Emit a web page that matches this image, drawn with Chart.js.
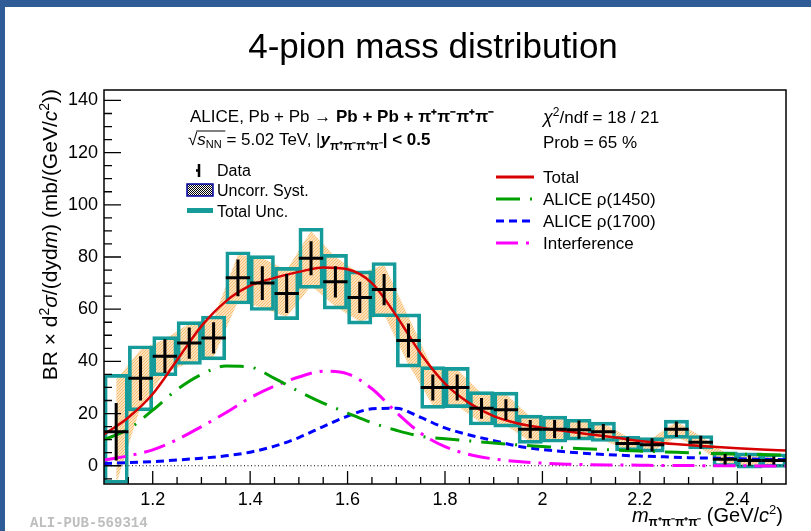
<!DOCTYPE html>
<html>
<head>
<meta charset="utf-8">
<script src="https://cdn.jsdelivr.net/npm/chart.js@4"></script>
<style>
  body { margin: 0; background: #fff; }
  canvas { display: block; }
</style>
</head>
<body>
<canvas id="massChart" width="811" height="531"></canvas>
<script>
// measured points, one per 50 MeV bin
const mass = [1.125, 1.175, 1.225, 1.275, 1.325, 1.375, 1.425, 1.475, 1.525, 1.575,
              1.625, 1.675, 1.725, 1.775, 1.825, 1.875, 1.925, 1.975, 2.025, 2.075,
              2.125, 2.175, 2.225, 2.275, 2.325, 2.375, 2.425, 2.475];
const xsec = [13, 33.5, 42, 47, 49, 72, 70, 66, 79.5, 70.5,
              64.5, 67.5, 48, 30, 30, 22, 21.5, 14, 14, 13.8,
              13, 8.5, 8, 14, 9, 2.5, 2, 2];
const statErr = [11, 8.5, 6.5, 6, 6, 7, 6.5, 7.5, 6.5, 6,
                 6, 6, 6.5, 5, 5, 4, 4, 3.5, 3.5, 3.5,
                 3, 2.5, 2.5, 3, 2.5, 2, 2, 1.5];
const systErr = [20, 11, 6.5, 7.5, 7.5, 9, 9.5, 9, 10.5, 9.5,
                 9.2, 9.5, 9.2, 7, 7, 5.7, 6, 4.8, 4.5, 3.5,
                 3.3, 2.5, 2.5, 3, 2.3, 2.5, 2.6, 2.3];
const totalErr = [22, 12.5, 7.5, 8.2, 8.4, 10, 10.5, 10, 11.5, 10.5,
                  10.2, 10.4, 10.2, 8, 7.7, 6.4, 6.7, 5.4, 5, 4,
                  3.7, 2.8, 2.8, 3.5, 2.6, 2.8, 2.9, 2.6];

// fit components, sampled every 50 MeV
const fitMass = [1.10, 1.15, 1.20, 1.25, 1.30, 1.35, 1.40, 1.45, 1.50, 1.55,
                 1.60, 1.65, 1.70, 1.75, 1.80, 1.85, 1.90, 1.95, 2.00, 2.05,
                 2.10, 2.15, 2.20, 2.25, 2.30, 2.35, 2.40, 2.45, 2.50];
const fitTotal = [12, 18.5, 27.5, 40.5, 53.5, 63, 69, 72, 74.3, 76,
                  75.3, 70, 57.5, 43, 31.5, 24, 19, 16.2, 14.5, 13.2,
                  12, 10.8, 9.5, 8.6, 7.9, 7.3, 6.7, 6.2, 5.8];
const rho1450 = [10, 14, 21.3, 29.2, 35, 38.2, 37.8, 33.5, 28.5, 24,
                 20.2, 16.5, 13.6, 11.3, 10.3, 9.5, 8.7, 8, 7.4, 6.8,
                 6.4, 6, 5.6, 5.3, 5, 4.7, 4.5, 4.3, 4.1];
const rho1700 = [0.9, 1.2, 1.6, 2.2, 2.9, 3.8, 5.2, 7.5, 10.8, 15,
                 19, 21.8, 22, 18.5, 14.5, 11.8, 9.6, 7.5, 6.2, 5.3,
                 4.6, 4.1, 3.7, 3.4, 3.1, 2.9, 2.7, 2.5, 2.3];
const interference = [2.2, 3.8, 6.1, 10, 15, 20.3, 26, 30.5, 34, 36.2,
                      35.2, 29.5, 20.5, 12.5, 7.3, 4.3, 2.6, 1.6, 1.0, 0.6,
                      0.4, 0.3, 0.2, 0.1, 0.1, 0, 0, -0.1, -0.1];

const xTicks = [1.2, 1.4, 1.6, 1.8, 2.0, 2.2, 2.4];
const yTicks = [0, 20, 40, 60, 80, 100, 120, 140];
const xMin = 1.1, xMax = 2.5, yMin = -7, yMax = 144;
const binHalf = 0.025;

const FONT = '"Liberation Sans", Arial, Helvetica, sans-serif';
const RED = 'rgb(214,0,0)', GREEN = 'rgb(0,160,0)', BLUE = 'rgb(0,0,255)', MAGENTA = 'rgb(255,0,255)';
const TEAL = 'rgb(22,155,155)';
const DASH_GREEN = [24, 10, 2, 10], DASH_BLUE = [8, 5], DASH_MAGENTA = [22, 8, 3, 8];

function dotPattern(size, bg, fg, dots) {
  const c = document.createElement('canvas');
  c.width = size; c.height = size;
  const g = c.getContext('2d');
  g.fillStyle = bg; g.fillRect(0, 0, size, size);
  g.fillStyle = fg;
  dots.forEach(d => g.fillRect(d[0], d[1], 1, 1));
  return g.createPattern(c, 'repeat');
}
const orangeFill = dotPattern(3, 'rgb(253,226,188)', 'rgb(247,190,115)', [[0, 0], [1, 2], [2, 1]]);
const systIcon = dotPattern(2, '#ffffff', '#000000', [[0, 0], [1, 1]]);

const pts = (xs, ys) => xs.map((x, i) => ({x: x, y: ys[i]}));

// draws a run of differently styled pieces of text along one baseline
function richText(ctx, runs, x, y, align) {
  let w = 0;
  runs.forEach(r => { ctx.font = r[1]; w += ctx.measureText(r[0]).width; });
  let cx = align === 'right' ? x - w : (align === 'center' ? x - w / 2 : x);
  runs.forEach(r => {
    ctx.font = r[1];
    ctx.fillText(r[0], cx, y + (r[2] || 0));
    cx += ctx.measureText(r[0]).width;
  });
  return w;
}

const decorations = {
  id: 'decorations',
  beforeDraw(chart) {
    const ctx = chart.ctx;
    ctx.save();
    ctx.fillStyle = '#fff';
    ctx.fillRect(0, 0, chart.width, chart.height);
    ctx.fillStyle = 'rgb(47,91,151)';
    ctx.fillRect(0, 0, chart.width, 7);
    ctx.fillRect(0, 0, 5, chart.height);
    ctx.restore();
  },
  afterDatasetsDraw(chart) {
    const ctx = chart.ctx, xs = chart.scales.x, ys = chart.scales.y, a = chart.chartArea;
    ctx.save();
    ctx.beginPath();
    ctx.rect(a.left, a.top, a.right - a.left, a.bottom - a.top);
    ctx.clip();
    // statistical error crosses
    ctx.strokeStyle = '#000';
    ctx.lineWidth = 3;
    mass.forEach((m, i) => {
      const px = xs.getPixelForValue(m), py = ys.getPixelForValue(xsec[i]);
      ctx.beginPath();
      ctx.moveTo(px, ys.getPixelForValue(xsec[i] - statErr[i]));
      ctx.lineTo(px, ys.getPixelForValue(xsec[i] + statErr[i]));
      ctx.moveTo(xs.getPixelForValue(m - binHalf), py);
      ctx.lineTo(xs.getPixelForValue(m + binHalf), py);
      ctx.stroke();
    });
    ctx.restore();

    // frame and inward ticks
    ctx.save();
    ctx.strokeStyle = '#000';
    ctx.lineWidth = 1.5;
    ctx.strokeRect(a.left, a.top, a.right - a.left, a.bottom - a.top);
    ctx.lineWidth = 1.3;
    ctx.beginPath();
    for (let v = -5; v <= 140; v += 5) {
      const py = ys.getPixelForValue(v);
      ctx.moveTo(a.left, py);
      ctx.lineTo(a.left + (v % 20 === 0 ? 17 : 8), py);
    }
    for (let k = 23; k <= 49; k++) {
      const px = xs.getPixelForValue(k * 0.05);
      ctx.moveTo(px, a.bottom);
      ctx.lineTo(px, a.bottom - (k % 4 === 0 ? 13 : 7));
    }
    ctx.stroke();
    ctx.restore();
  },
  afterDraw(chart) {
    const ctx = chart.ctx;
    ctx.save();
    ctx.fillStyle = '#000';
    ctx.textBaseline = 'alphabetic';
    ctx.textAlign = 'left';

    // title
    richText(ctx, [['4-pion mass distribution', '35px ' + FONT]], 433, 58, 'center');

    // y axis title
    ctx.save();
    ctx.translate(57, 89);
    ctx.rotate(-Math.PI / 2);
    richText(ctx, [
      ['BR \u00d7 d', '21px ' + FONT], ['2', '14px ' + FONT, -8],
      ['\u03c3', 'italic 21px ' + FONT], ['/(dyd', '21px ' + FONT],
      ['m', 'italic 21px ' + FONT], [') (mb/(GeV/', '21px ' + FONT],
      ['c', 'italic 21px ' + FONT], ['2', '14px ' + FONT, -8], ['))', '21px ' + FONT]
    ], 0, 0, 'right');
    ctx.restore();

    // x axis title
    richText(ctx, [
      ['m', 'italic 20px ' + FONT], ['\u03c0\u207a\u03c0\u207b\u03c0\u207a\u03c0\u207b', 'bold 12px ' + FONT, 4],
      [' (GeV/', '20px ' + FONT], ['c', 'italic 20px ' + FONT],
      ['2', '13px ' + FONT, -8], [')', '20px ' + FONT]
    ], 783, 522, 'right');

    // collision system block
    const t = '17px ' + FONT, tb = 'bold 17px ' + FONT;
    richText(ctx, [['ALICE, Pb + Pb \u2192 ', t], ['Pb + Pb + \u03c0\u207a\u03c0\u207b\u03c0\u207a\u03c0\u207b', tb]], 190, 122, 'left');
    const w0 = richText(ctx, [['\u221a', t]], 188, 145, 'left');
    ctx.lineWidth = 1;
    ctx.beginPath();
    ctx.moveTo(188 + w0 - 1, 131);
    ctx.lineTo(188 + w0 + 28, 131);
    ctx.stroke();
    richText(ctx, [
      ['s', 'italic ' + t], ['NN', '11px ' + FONT, 3], [' = 5.02 TeV, |', t],
      ['y', 'bold italic ' + t], ['\u03c0\u207a\u03c0\u207b\u03c0\u207a\u03c0\u207b', 'bold 12px ' + FONT, 5],
      ['| < 0.5', tb]
    ], 188 + w0, 145, 'left');

    // data legend
    const tl = '16px ' + FONT;
    ctx.strokeStyle = '#000';
    ctx.lineWidth = 2.5;
    ctx.beginPath();
    ctx.moveTo(199, 164); ctx.lineTo(199, 177);
    ctx.moveTo(196, 170.5); ctx.lineTo(199, 170.5);
    ctx.stroke();
    ctx.fillStyle = systIcon;
    ctx.fillRect(187, 184, 26, 12);
    ctx.strokeStyle = 'rgb(0,0,160)';
    ctx.lineWidth = 1.5;
    ctx.strokeRect(187, 184, 26, 12);
    ctx.fillStyle = TEAL;
    ctx.fillRect(187, 208, 26, 5);
    ctx.fillStyle = '#000';
    richText(ctx, [['Data', tl]], 217, 176, 'left');
    richText(ctx, [['Uncorr. Syst.', tl]], 217, 196, 'left');
    richText(ctx, [['Total Unc.', tl]], 217, 217, 'left');

    // fit legend
    richText(ctx, [['\u03c7', 'italic 18px ' + FONT], ['2', '12px ' + FONT, -7], ['/ndf = 18 / 21', t]], 543, 123, 'left');
    richText(ctx, [['Prob = 65 %', t]], 543, 148, 'left');
    const rows = [
      ['Total', RED, []], ['ALICE \u03c1(1450)', GREEN, DASH_GREEN],
      ['ALICE \u03c1(1700)', BLUE, DASH_BLUE], ['Interference', MAGENTA, DASH_MAGENTA]
    ];
    rows.forEach((r, i) => {
      const yy = 177 + i * 22;
      ctx.strokeStyle = r[1];
      ctx.lineWidth = 3;
      ctx.setLineDash(r[2]);
      ctx.beginPath();
      ctx.moveTo(496, yy); ctx.lineTo(534, yy);
      ctx.stroke();
      ctx.setLineDash([]);
      ctx.fillStyle = '#000';
      richText(ctx, [[r[0], t]], 543, yy + 6, 'left');
    });

    // publication tag
    ctx.fillStyle = 'rgb(190,190,190)';
    richText(ctx, [['ALI-PUB-569314', 'bold 14px "Liberation Mono", monospace']], 30, 527, 'left');
    ctx.restore();
  }
};

const boxes = mass.map((m, i) => ({x: m, y: [Math.max(xsec[i] - totalErr[i], yMin + 0.3), xsec[i] + totalErr[i]]}));

new Chart(document.getElementById('massChart'), {
  type: 'bar',
  data: {
    datasets: [
      {
        type: 'line', label: 'syst up', data: pts(mass, xsec.map((v, i) => v + systErr[i])),
        borderWidth: 0, pointRadius: 0, fill: false, order: 9
      },
      {
        type: 'line', label: 'syst down', data: pts(mass, xsec.map((v, i) => v - systErr[i])),
        borderWidth: 0, pointRadius: 0, fill: '-1', backgroundColor: orangeFill, order: 8
      },
      {
        type: 'bar', label: 'Total Unc.', data: boxes,
        backgroundColor: 'rgba(0,0,0,0)', borderColor: TEAL, borderWidth: 3, borderSkipped: false,
        barPercentage: 1, categoryPercentage: 1, order: 7
      },
      {
        type: 'line', label: 'zero', data: [{x: xMin, y: 0}, {x: xMax, y: 0}],
        borderColor: '#000', borderWidth: 1.2, borderDash: [1, 2.5], pointRadius: 0, order: 6
      },
      {
        type: 'line', label: 'Interference', data: pts(fitMass, interference),
        borderColor: MAGENTA, borderWidth: 3, borderDash: DASH_MAGENTA, pointRadius: 0,
        cubicInterpolationMode: 'monotone', order: 5
      },
      {
        type: 'line', label: 'ALICE rho(1700)', data: pts(fitMass, rho1700),
        borderColor: BLUE, borderWidth: 3, borderDash: DASH_BLUE, pointRadius: 0,
        cubicInterpolationMode: 'monotone', order: 4
      },
      {
        type: 'line', label: 'ALICE rho(1450)', data: pts(fitMass, rho1450),
        borderColor: GREEN, borderWidth: 3, borderDash: DASH_GREEN, pointRadius: 0,
        cubicInterpolationMode: 'monotone', order: 3
      },
      {
        type: 'line', label: 'Total', data: pts(fitMass, fitTotal),
        borderColor: RED, borderWidth: 2.5, pointRadius: 0,
        cubicInterpolationMode: 'monotone', order: 2
      }
    ]
  },
  options: {
    responsive: false,
    animation: false,
    events: [],
    layout: { padding: { top: 90, right: 25, left: 0, bottom: 0 }, autoPadding: false },
    plugins: { legend: { display: false }, tooltip: { enabled: false } },
    scales: {
      x: {
        type: 'linear', min: xMin, max: xMax, offset: false,
        grid: { display: false, drawTicks: false },
        border: { display: false },
        afterFit: s => { s.height = 47; },
        afterBuildTicks: s => { s.ticks = xTicks.map(v => ({value: v})); },
        ticks: {
          padding: 5, color: '#000', font: { family: FONT, size: 18 },
          callback: v => String(+v.toFixed(1))
        }
      },
      y: {
        type: 'linear', min: yMin, max: yMax,
        grid: { display: false, drawTicks: false },
        border: { display: false },
        afterFit: s => { s.width = 104; },
        afterBuildTicks: s => { s.ticks = yTicks.map(v => ({value: v})); },
        ticks: { padding: 6, color: '#000', font: { family: FONT, size: 18 } }
      }
    }
  },
  plugins: [decorations]
});
</script>
</body>
</html>
